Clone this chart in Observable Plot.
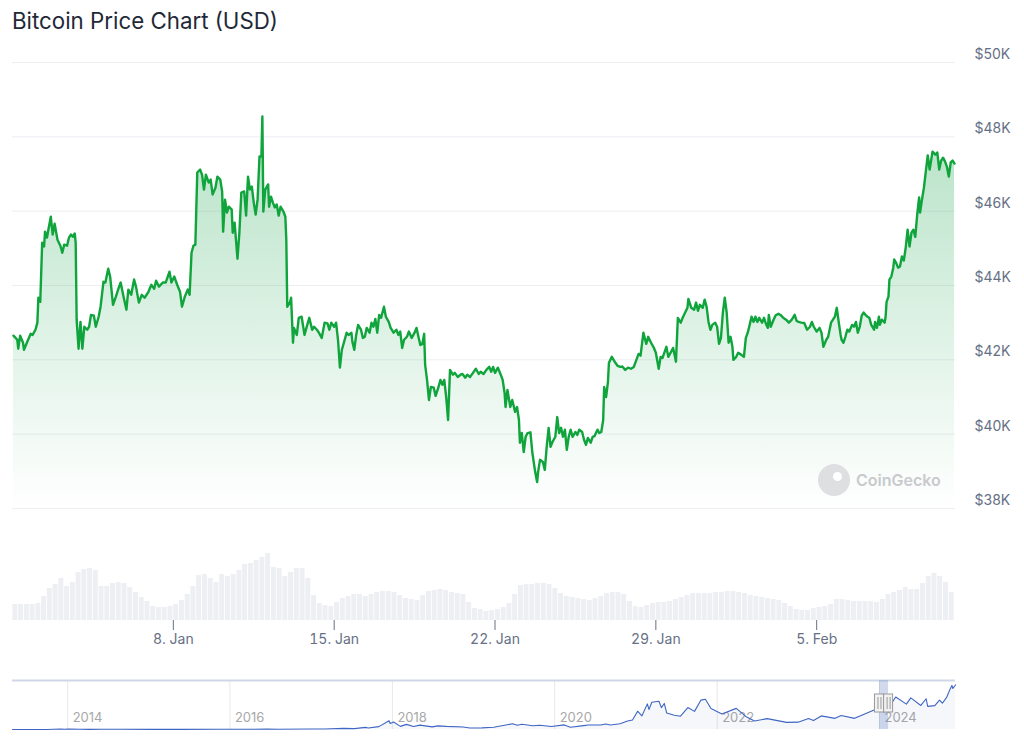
<!DOCTYPE html>
<html><head><meta charset="utf-8">
<script src="https://cdn.jsdelivr.net/npm/d3@7"></script>
<script src="https://cdn.jsdelivr.net/npm/@observablehq/plot@0.6"></script>
<style>
html,body{margin:0;padding:0;background:#fff;}
#root{position:relative;width:1024px;height:748px;overflow:hidden;font-family:Inter,"Noto Sans",sans-serif;}
#title{position:absolute;left:12px;top:10px;font-size:22.3px;line-height:22px;color:#1f2937;z-index:3;white-space:nowrap;}
.layer{position:absolute;left:0;}
#price{top:0}
#vol{top:530px}
#nav{top:670px}
#vol svg line{stroke:#d9dde4}
#wm{position:absolute;left:818px;top:464px;display:flex;align-items:center;gap:6px;font-size:16px;font-weight:600;color:#c8cacd;z-index:3;}
#wm .logo{width:32px;height:32px;border-radius:50%;background:#dedfe1;position:relative;}
#wm .logo::after{content:"";position:absolute;left:15px;top:8px;width:9px;height:9px;border-radius:50%;background:#fff;}
</style></head>
<body><div id="root">
<div class="layer" id="price"></div>
<div class="layer" id="vol"></div>
<div class="layer" id="nav"></div>
<div id="title">Bitcoin Price Chart (USD)</div>
<div id="wm"><span class="logo"></span>CoinGecko</div>
</div>
<script>
// ---------- DATA ----------
// hours since 2024-01-01 00:00 UTC
const hours = [1,5,6,8,11,12,15,19,21,24,
26,27,29,31,33,34,36,40,42,44,
47,50,52,54,57,59,61,63,65,66,
67,69,71,73,75,78,80,82,85,87,
90,92,95,97,100,102,105,108,111,113,
116,119,121,124,127,129,132,135,138,142,
145,148,150,153,157,160,164,166,169,172,
175,177,180,183,185,187,189,191,193,196,
198,200,202,205,207,209,212,214,217,219,
220,222,224,226,229,230,232,235,237,239,
242,244,246,248,250,252,254,256,258,260,
261,262,264,267,268,270,272,274,276,278,
280,283,285,286,287,290,291,293,294,297,
299,302,305,307,310,313,315,318,320,323,
326,329,331,
333,336,338,340,342,344,347,349,351,354,
355,357,359,361,364,366,368,370,373,375,
377,379,381,383,385,388,390,393,395,398,
401,403,405,407,409,412,414,417,420,422,
424,426,428,430,431,433,435,437,440,442,
445,447,449,451,453,455,457,460,462,465,
468,470,473,475,478,481,484,487,489,492,
495,498,500,502,504,507,510,512,514,515,
517,520,522,525,527,529,530,532,534,536,
538,541,543,546,548,549,551,554,556,558,
560,562,564,567,569,571,573,575,577,579,
581,583,585,588,590,592,595,597,599,601,
604,606,608,611,613,615,617,618,620,622,
623,626,629,632,635,
637,640,643,646,649,651,654,656,659,662,
664,667,670,672,675,677,679,683,685,688,
690,692,693,695,698,700,702,705,706,709,
712,714,716,718,721,723,725,727,729,731,
734,736,738,740,742,744,746,748,750,752,
753,756,758,761,764,766,768,770,772,774,
776,778,780,783,785,787,789,790,792,795,
797,800,803,805,808,811,814,817,819,821,
824,827,830,833,835,837,840,843,845,847,
850,852,855,857,859,861,863,865,866,868,
870,872,874,877,879,881,883,885,887,889,
891,893,895,897,900,901,903,905,906,908,
911,912,913,915,916,918,920,921,923,925,
927,929,931,933,935,937,939,941,943,945,
947,948,950,952,954,956,958,960,961,964,
966,968,970,972,974,976,978,980,982,984];

// BTC price, USD
const prices = [42650,42540,42300,42650,42460,42270,42460,42700,42670,42810,
43000,43670,43560,45150,45050,45450,45290,45850,45370,45660,
45230,45070,44880,45100,45070,45290,45370,45310,45400,45150,
43080,42300,43020,42300,42890,42810,42890,43210,43190,42890,
43160,43430,44100,44080,44450,44240,43480,43700,43940,44080,
43700,43350,43890,43750,44160,43970,43540,43750,43670,43830,
44020,43910,44130,43970,44080,44080,44370,44080,44240,44020,
43830,43430,43700,43890,43750,44880,45070,45100,47040,47120,
46980,46580,46980,46770,46850,46450,46630,46930,46850,46530,
45450,46310,45960,46120,46040,45420,45690,44720,45420,46500,
46530,45880,46930,46580,46660,46230,45910,46310,47470,47470,
48550,45990,46580,46720,46120,46390,46230,46100,46180,45880,
46120,45990,45850,45230,43430,43560,43670,42460,42860,42670,
43130,43160,42670,42860,43130,42810,42890,42810,42730,42590,
43000,42980,42810,
43000,42890,43000,42540,41790,42270,42540,42730,42670,42730,
42490,42270,42670,42940,42810,42590,42620,42860,42730,43000,
42890,43100,42730,43210,43130,43430,43160,43020,42860,42730,
42810,42670,42760,42320,42540,42620,42760,42590,42730,42860,
42620,42400,42420,42700,41870,41460,40920,41270,41250,41030,
41270,41460,41330,41460,41000,40380,41730,41600,41650,41540,
41600,41620,41520,41600,41540,41650,41760,41620,41680,41620,
41730,41810,41680,41810,41650,41790,41600,41460,41110,40730,
41190,40730,40920,40600,40730,40380,39770,40030,39520,39930,
40030,40050,39500,38980,38710,38980,39310,39250,39040,39660,
40170,39660,39790,39930,40460,40030,40170,39930,40120,39580,
39930,40120,39930,40060,39980,40120,40060,39850,39710,39900,
39770,39930,39950,40120,40030,40060,40380,41270,41000,41410,
41920,42080,41950,41840,41810,
41820,41730,41790,41760,41810,41950,42160,42110,42730,42430,
42620,42460,42320,42190,41760,42080,42050,42350,42080,42220,
42320,42080,41950,43130,43000,43130,43240,43400,43640,43400,
43350,43540,43320,43480,43400,43620,43430,43020,42810,42940,
43000,42890,42430,42590,43270,43670,43270,42460,42620,42350,
42000,42080,42190,42140,42080,42590,42730,42940,43160,43020,
43160,43020,43130,43000,43130,42970,42860,43210,42890,43080,
43190,43240,43190,43130,43080,43000,43080,43210,43050,43020,
43000,42990,42810,42890,43020,42890,42760,42860,42730,42350,
42540,42620,43000,43080,43160,43400,43020,42670,42540,42460,
42620,42810,42760,42940,42890,43020,42730,42890,43190,43270,
43210,43160,43130,42940,42810,43020,42860,43160,42940,43080,
43000,43160,43560,43700,44160,44240,44480,44700,44610,44480,
44510,44780,44670,45020,45500,45050,45420,45500,45310,45910,
46370,45960,46310,46630,47070,47500,47120,47440,47600,47520,
47580,47120,47360,47440,47340,47200,46930,47310,47360,47280];

// 24h volume (USD bn), one value per 6-hour block from 2024-01-01 00:00 UTC
const volumes = [16,16,16,16,17,24,32,36,42,34,
38,48,51,52,50,34,34,37,38,37,
33,28,23,19,14,13,13,14,16,20,
26,34,45,46,42,38,46,44,46,50,
56,57,60,63,67,53,52,44,48,52,
52,42,25,17,15,14,18,22,24,26,
26,24,26,28,29,29,28,25,22,21,
20,25,29,30,31,30,28,27,26,18,
12,11,9,10,11,13,17,26,35,36,
36,37,37,36,32,27,24,23,22,21,
20,22,24,27,28,28,26,19,14,13,
15,17,18,18,19,21,23,25,27,27,
27,27,28,28,29,29,28,27,25,24,
23,22,21,20,17,14,11,10,10,12,
13,14,16,21,21,20,19,19,19,19,
18,21,26,28,30,33,31,31,37,44,
47,44,38,28];

const priceTicks = [38000,40000,42000,44000,46000,48000,50000];
const xTickLabels = ["2024-01-08","2024-01-15","2024-01-22","2024-01-29","2024-02-05"];
const rangeStart = "2024-01-01T00:00Z";
const rangeEndHour = 985;

// Navigator: full history (USD)
const navDates = ["2013-04-28","2013-07-01","2013-10-01","2013-11-30","2013-12-18","2014-01-05","2014-02-25","2014-04-10","2014-06-01","2014-09-01",
"2015-01-14","2015-06-01","2015-11-04","2016-01-01","2016-06-16","2016-08-02","2017-01-01","2017-03-01","2017-05-25","2017-07-15",
"2017-09-01","2017-09-15","2017-11-01","2017-12-17","2017-12-22","2018-01-06","2018-02-06","2018-03-05","2018-04-06","2018-05-05",
"2018-06-29","2018-07-25","2018-09-01","2018-11-15","2018-12-15","2019-02-08","2019-04-02","2019-06-26","2019-07-17","2019-08-06",
"2019-09-25","2019-10-26","2019-12-17","2020-02-13","2020-03-12","2020-05-10","2020-06-01","2020-07-26","2020-08-17","2020-09-08",
"2020-10-21","2020-11-24","2020-12-16","2021-01-08","2021-01-27","2021-02-21","2021-02-28","2021-03-13","2021-04-14","2021-04-25",
"2021-05-08","2021-05-19","2021-06-22","2021-07-20","2021-08-22","2021-09-21","2021-10-20","2021-11-09","2021-12-04","2022-01-22",
"2022-03-28","2022-05-12","2022-06-18","2022-08-14","2022-11-09","2022-12-31","2023-02-16","2023-03-10","2023-04-14","2023-06-15",
"2023-07-13","2023-09-11","2023-10-24","2023-12-08","2024-01-11","2024-01-23","2024-02-15","2024-03-14","2024-05-01","2024-05-21",
"2024-07-05","2024-07-29","2024-08-05","2024-09-06","2024-09-27","2024-10-10","2024-10-29","2024-11-13","2024-11-22","2024-11-26",
"2024-12-08"];
const navPrices = [130,90,125,1100,550,900,550,380,650,480,
180,230,400,430,750,550,1000,1200,2500,1900,
4800,3200,6500,19500,13500,17000,7000,11500,6600,9800,
5900,8200,7000,5500,3200,3600,4900,13000,9500,11800,
8500,9500,6600,10300,4900,8700,10200,10000,12300,10100,
12900,19000,21300,41000,30400,57500,45000,61000,63500,49000,
58500,37000,32000,29800,49300,40700,66000,68000,47000,35000,
47400,28500,19000,24400,16000,16500,24800,20000,30500,25000,
31400,25000,34500,44000,46500,39500,52000,73000,57000,71000,
54000,69000,52000,53500,66000,59000,72000,90000,99000,92000,
100000];
const navYears = [2014,2016,2018,2020,2022,2024];

// ---------- BUILD ----------
const H = 3600e3;
const t0 = new Date(rangeStart).getTime();
const n = Math.min(hours.length, prices.length);
const priceData = d3.range(n).map(i => ({date: new Date(t0 + hours[i]*H), price: prices[i]}));
const xDomain = [new Date(t0), new Date(t0 + rangeEndHour*H)];
const xTicks = xTickLabels.map(s => new Date(s + "T00:00Z"));
const volData = volumes.map((v,i) => ({start: new Date(t0 + i*6*H), end: new Date(t0 + (i+1)*6*H), v}));
const font = "Inter, 'Noto Sans', sans-serif";

const pricePlot = Plot.plot({
  width: 1024, height: 530,
  marginLeft: 12, marginRight: 69, marginTop: 62, marginBottom: 22,
  style: {background: "transparent", fontFamily: font, fontSize: "14px", color: "#667085", overflow: "visible"},
  x: {type: "utc", domain: xDomain, axis: null},
  y: {domain: [38000, 50000], axis: null},
  marks: [
    Plot.ruleY(priceTicks, {stroke: "#eceef2", strokeWidth: 1}),
    Plot.text(priceTicks, {y: d => d, text: d => `$${d/1000}K`, frameAnchor: "right", dx: 19, dy: -8, textAnchor: "start", fill: "#667085"}),
    Plot.areaY(priceData, {x: "date", y1: 38000, y2: "price", fill: "url(#priceFade)"}),
    Plot.line(priceData, {x: "date", y: "price", stroke: "#10a43c", strokeWidth: 2.4, strokeLinejoin: "round"})
  ]
});
const defs = d3.select(pricePlot).insert("defs", ":first-child");
const grad = defs.append("linearGradient").attr("id", "priceFade").attr("x1", 0).attr("y1", 0).attr("x2", 0).attr("y2", 1);
grad.append("stop").attr("offset", "0%").attr("stop-color", "#16a34a").attr("stop-opacity", 0.32);
grad.append("stop").attr("offset", "55%").attr("stop-color", "#16a34a").attr("stop-opacity", 0.14);
grad.append("stop").attr("offset", "100%").attr("stop-color", "#16a34a").attr("stop-opacity", 0.0);
document.getElementById("price").appendChild(pricePlot);

const volPlot = Plot.plot({
  width: 1024, height: 130,
  marginLeft: 12, marginRight: 69, marginTop: 10, marginBottom: 40,
  style: {background: "transparent", fontFamily: font, fontSize: "14px", color: "#667085"},
  x: {type: "utc", domain: xDomain, ticks: xTicks, tickFormat: d3.utcFormat("%-d. %b"), tickSize: 10, tickPadding: 4, label: null},
  y: {domain: [0, 80], axis: null},
  marks: [
    Plot.rectY(volData, {x1: "start", x2: "end", y: "v", fill: "#edeff3", insetLeft: 0.4, insetRight: 0.4})
  ]
});
document.getElementById("vol").appendChild(volPlot);

const navData = navDates.map((d,i) => ({date: new Date(d + "T00:00Z"), price: navPrices[i]}));
const navDomain = [new Date(navDates[0] + "T00:00Z"), new Date(navDates[navDates.length-1] + "T00:00Z")];
const yearTicks = navYears.map(y => new Date(Date.UTC(y, 0, 1)));
const range = [xDomain[0], xDomain[1]];
const navPlot = Plot.plot({
  width: 1024, height: 78,
  marginLeft: 12, marginRight: 69, marginTop: 10, marginBottom: 19,
  style: {background: "transparent", fontFamily: font, fontSize: "13px", color: "#a3a3a3"},
  x: {type: "utc", domain: navDomain, axis: null},
  y: {domain: [0, 110000], axis: null},
  marks: [
    Plot.ruleX(yearTicks, {x: d => d, stroke: "#e8e8e8"}),
    Plot.text(yearTicks, {x: d => d, text: d => String(d.getUTCFullYear()), frameAnchor: "bottom", dy: -8, dx: 5, textAnchor: "start", fill: "#a8a8a8"}),
    Plot.areaY(navData, {x: "date", y: "price", fill: "#335cad", fillOpacity: 0.05}),
    Plot.line(navData, {x: "date", y: "price", stroke: "#3f66c4", strokeWidth: 1.1}),
    Plot.ruleY([110000], {stroke: "#cfd7e6", strokeWidth: 2}),
    Plot.rect([range], {x1: d => d[0], x2: d => d[1], fill: "#6685c2", fillOpacity: 0.3}),
    Plot.rect(range, {x1: d => d, x2: d => d, insetLeft: -4.5, insetRight: -4.5, insetTop: 14, insetBottom: 17, fill: "#f2f2f2", stroke: "#999999"}),
    Plot.ruleX(range, {x: d => d, dx: -1.5, insetTop: 17, insetBottom: 20, stroke: "#999999"}),
    Plot.ruleX(range, {x: d => d, dx: 1.5, insetTop: 17, insetBottom: 20, stroke: "#999999"})
  ]
});
document.getElementById("nav").appendChild(navPlot);
</script>
</body></html>
